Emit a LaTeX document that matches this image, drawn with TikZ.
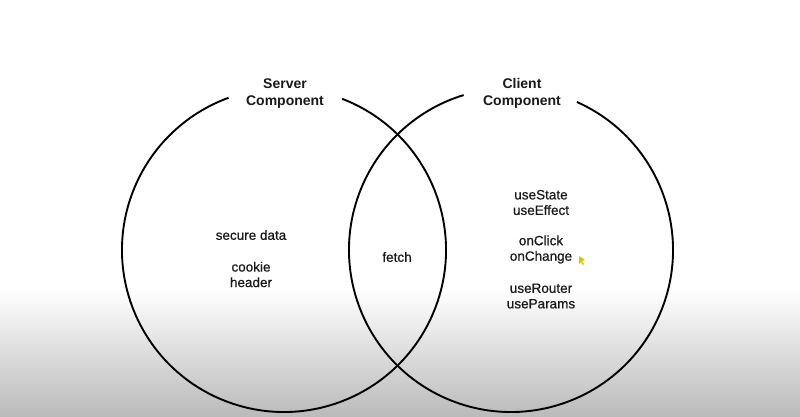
\documentclass[tikz,border=0pt]{standalone}
\usepackage{fontspec}
\setmainfont{Liberation Sans}
\newfontfamily\itemfont[FakeBold=0.6]{Liberation Sans}
\usetikzlibrary{calc}
\begin{document}
\begin{tikzpicture}[x=1pt,y=1pt,
  ring/.style={line width=1.9pt, black},
  title/.style={align=center, font=\fontsize{14}{17}\selectfont\bfseries, text=black!90},
  item/.style={align=center, font=\itemfont\fontsize{13.5}{15.5}\selectfont, text=black!90}]
\useasboundingbox (0,0) rectangle (800,417);
\fill[white] (0,0) rectangle (800,417);
\shade[top color=white, bottom color=black!27] (0,0) rectangle (800,128);
% circles
\coordinate (lc) at (284,167);
\coordinate (rc) at (511,167);
\draw[ring] ($(lc)+(69:162)$) arc[start angle=69, end angle=-250, radius=162];
\draw[ring] ($(rc)+(66:162)$) arc[start angle=66, end angle=-253, radius=162];
% titles
\node[title] (server) at (285,323.5) {Server\\Component};
\node[title] (client) at (522,323.5) {Client\\Component};
% left items
\node[item] (secure) at (251,182) {secure data};
\node[item] (cookie) at (251,142.5) {cookie\\header};
% middle
\node[item] (fetch) at (397,160) {fetch};
% right items
\node[item] (state) at (541,214.5) {useState\\useEffect};
\node[item] (click) at (541,167.5) {onClick\\onChange};
\node[item] (router) at (541,121) {useRouter\\useParams};
% cursor
\fill[yellow!60!olive] (579,161) -- (579,153) -- (581,155) -- (583,152) -- (584,153) -- (582,156) -- (585,157) -- cycle;
\end{tikzpicture}
\end{document}
